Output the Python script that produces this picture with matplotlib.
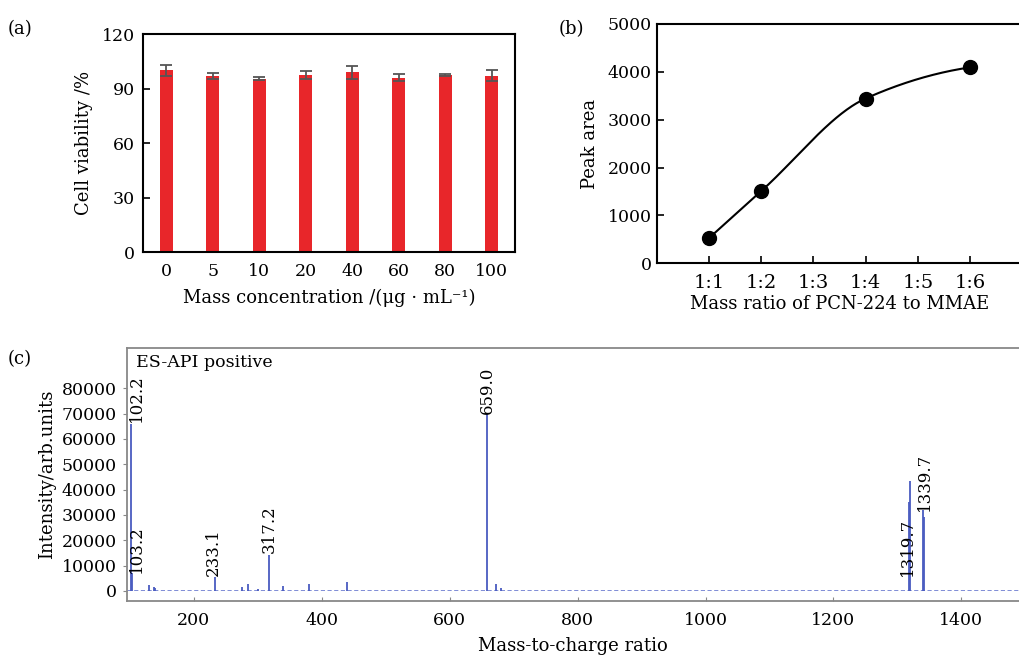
import numpy as np
import matplotlib
matplotlib.use("Agg")
import matplotlib.pyplot as plt

plt.rcParams['font.family'] = ['DejaVu Serif']
plt.rcParams['font.size'] = 12.5

# (a) cell viability
conc_labels = ['0', '5', '10', '20', '40', '60', '80', '100']
viability = [100, 97, 95.5, 97.5, 99, 96, 97.5, 97]
viability_err = [3, 1.5, 1, 2, 3.5, 2, 0.5, 3]

# (b) peak area vs mass ratio
ratio_pos = [1, 2, 4, 6]
ratio_labels = ['1:1', '1:2', '1:3', '1:4', '1:5', '1:6']
peak_area = [530, 1510, 3440, 4090]

# (c) mass spectrum
spec_mz = [102.2, 102.9, 130, 137, 140, 233.1, 275, 285, 300, 317.2, 340, 380, 440,
           659.0, 672, 680, 1318.7, 1319.7, 1339.7, 1341]
spec_int = [66000, 7000, 2200, 1500, 1000, 5300, 1600, 2800, 800, 14300, 1800, 2800, 3700,
            70000, 2700, 1300, 35000, 43500, 32000, 29000]
baseline_level = 400
label_text = ['102.2', '103.2', '233.1', '317.2', '659.0', '1319.7', '1339.7']
label_x = [111, 111, 230, 317.2, 659.0, 1316, 1342]
label_y = [66500, 7000, 6000, 15000, 70000, 6000, 31500]


def pchip(x, y, xs):
    # monotone cubic curve through the measured points
    x = np.asarray(x, float)
    y = np.asarray(y, float)
    h = np.diff(x)
    d = np.diff(y) / h
    m = np.zeros_like(y)
    for k in range(1, len(x) - 1):
        w1 = 2 * h[k] + h[k - 1]
        w2 = h[k] + 2 * h[k - 1]
        m[k] = (w1 + w2) / (w1 / d[k - 1] + w2 / d[k])
    m[0] = ((2 * h[0] + h[1]) * d[0] - h[0] * d[1]) / (h[0] + h[1])
    m[-1] = d[-1] * 0.5
    out = np.empty_like(xs)
    for i, xv in enumerate(xs):
        k = min(np.searchsorted(x, xv, side='right') - 1, len(x) - 2)
        t = (xv - x[k]) / h[k]
        h00 = 2 * t**3 - 3 * t**2 + 1
        h10 = t**3 - 2 * t**2 + t
        h01 = -2 * t**3 + 3 * t**2
        h11 = t**3 - t**2
        out[i] = h00 * y[k] + h10 * h[k] * m[k] + h01 * y[k + 1] + h11 * h[k] * m[k + 1]
    return out


fig = plt.figure(figsize=(10.19, 6.57), dpi=100)

# ---- (a)
ax1 = fig.add_axes([0.1403, 0.6164, 0.3651, 0.3318])
xa = np.arange(len(conc_labels))
ax1.bar(xa, viability, width=0.28, color='#e8262a')
ax1.errorbar(xa, viability, yerr=viability_err, fmt='none', ecolor='#555555',
             elinewidth=1.3, capsize=4, capthick=1.3)
ax1.set_xlim(-0.5, 7.5)
ax1.set_ylim(0, 120)
ax1.set_yticks([0, 30, 60, 90, 120])
ax1.set_xticks(xa)
ax1.set_xticklabels(conc_labels)
ax1.tick_params(axis='y', direction='in', length=5, width=1.2, pad=6)
ax1.tick_params(axis='x', length=0, pad=8)
for s in ax1.spines.values():
    s.set_linewidth(1.5)
ax1.set_ylabel('Cell viability /%', labelpad=6, fontsize=13)
ax1.set_xlabel('Mass concentration /(μg · mL⁻¹)', labelpad=6, fontsize=13)
fig.text(0.007, 0.955, '(a)', fontsize=13, va='center')

# ---- (b)
ax2 = fig.add_axes([0.6448, 0.5992, 0.3582, 0.3646])
xs = np.linspace(ratio_pos[0], ratio_pos[-1], 200)
ax2.plot(xs, pchip(ratio_pos, peak_area, xs), color='black', lw=1.5)
ax2.plot(ratio_pos, peak_area, 'o', color='black', markersize=10)
ax2.set_xlim(0, 7)
ax2.set_ylim(0, 5000)
ax2.set_xticks(range(1, 7))
ax2.set_xticklabels(ratio_labels, fontsize=14)
ax2.set_yticks([0, 1000, 2000, 3000, 4000, 5000])
ax2.tick_params(direction='in', length=5, width=1.2)
ax2.tick_params(axis='y', pad=4)
ax2.tick_params(axis='x', pad=8)
for s in ax2.spines.values():
    s.set_linewidth(1.5)
ax2.set_ylabel('Peak area', labelpad=6, fontsize=13)
ax2.set_xlabel('Mass ratio of PCN-224 to MMAE', labelpad=2, fontsize=13)
fig.text(0.548, 0.955, '(b)', fontsize=13, va='center')

# ---- (c)
ax3 = fig.add_axes([0.1243, 0.0852, 0.8757, 0.3856])
ax3.plot([95, 1490], [baseline_level, baseline_level], color='#6a7ad0',
         lw=0.6, linestyle=(0, (5, 3)))
ax3.vlines(spec_mz, 0, spec_int, color='#4a5cc0', lw=1.3)
for txt, x, y in zip(label_text, label_x, label_y):
    ax3.text(x, y, txt, rotation=90, ha='center', va='bottom', fontsize=12)
ax3.text(0.01, 0.975, 'ES-API positive', transform=ax3.transAxes,
         ha='left', va='top', fontsize=12.5)
ax3.set_xlim(95, 1490)
ax3.set_ylim(-4000, 96000)
ax3.set_yticks(np.arange(0, 80001, 10000))
ax3.set_xticks([200, 400, 600, 800, 1000, 1200, 1400])
ax3.tick_params(axis='y', direction='out', length=3, color='#888888', pad=4)
ax3.tick_params(axis='x', direction='in', length=3, color='#888888', pad=8)
for s in ax3.spines.values():
    s.set_color('#888888')
    s.set_linewidth(1.3)
ax3.spines['right'].set_visible(False)
ax3.set_ylabel('Intensity/arb.units', labelpad=4, fontsize=13)
ax3.set_xlabel('Mass-to-charge ratio', labelpad=6, fontsize=13)
fig.text(0.007, 0.453, '(c)', fontsize=13, va='center')

fig.savefig('out.png', dpi=100)
